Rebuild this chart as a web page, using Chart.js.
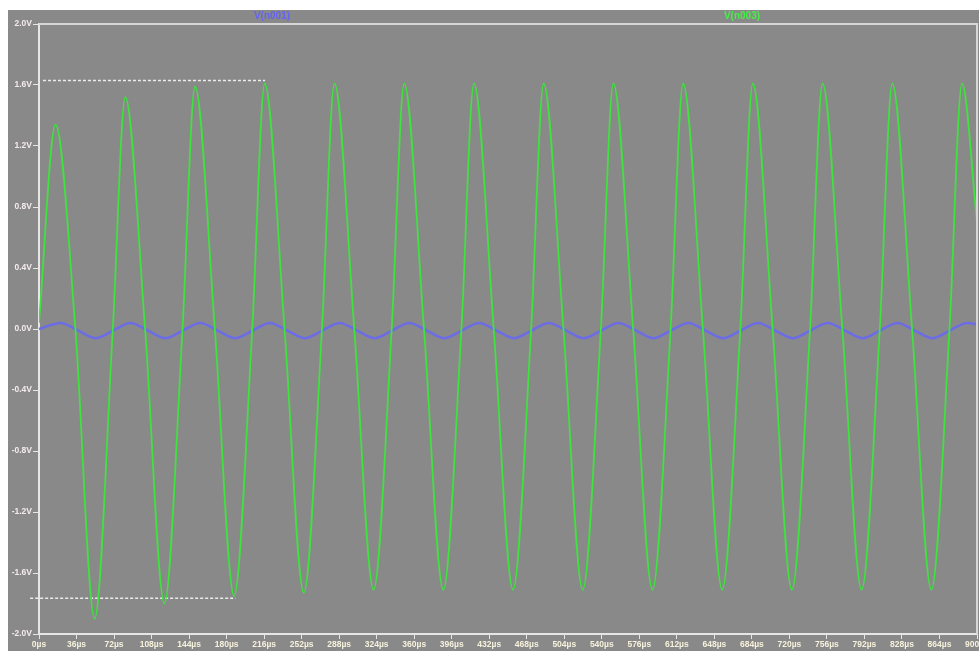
<!DOCTYPE html>
<html>
<head>
<meta charset="utf-8">
<script src="https://cdn.jsdelivr.net/npm/chart.js@4/dist/chart.umd.min.js"></script>
<style>
    body { margin: 0; background: #fff; }
    canvas { display: block; }
</style>
</head>
<body>
<canvas id="scope" width="979" height="651"></canvas>
<script>
// time in µs, volts (peaks, zero crossings, troughs)
const greenTime = [0, 15.9, 34.9, 53.4, 70.8, 82.8, 101.8, 120.3, 137.7, 149.7, 168.7, 187.2, 204.6,
    216.6, 235.6, 254.1, 271.5, 283.5, 302.5, 321.0, 338.4, 350.4, 369.4, 387.9, 405.3,
    417.3, 436.3, 454.8, 472.2, 484.2, 503.2, 521.7, 539.1, 551.1, 570.1, 588.6, 606.0,
    618.0, 637.0, 655.5, 672.9, 684.9, 703.9, 722.4, 739.8, 751.8, 770.8, 789.3, 806.7,
    818.7, 837.7, 856.2, 873.6, 885.6, 900];
const greenVolt = [0.04, 1.34, 0, -1.90, 0, 1.52, 0, -1.80, 0, 1.59, 0, -1.75, 0,
    1.61, 0, -1.73, 0, 1.61, 0, -1.71, 0, 1.61, 0, -1.71, 0,
    1.61, 0, -1.71, 0, 1.61, 0, -1.71, 0, 1.61, 0, -1.71, 0,
    1.61, 0, -1.71, 0, 1.61, 0, -1.71, 0, 1.61, 0, -1.71, 0,
    1.61, 0, -1.71, 0, 1.61, 0.70];

const blueTime = [0, 20.9, 37.6, 54.4, 71.1, 87.8, 104.5, 121.3, 138.0, 154.7, 171.4, 188.2, 204.9,
    221.6, 238.3, 255.1, 271.8, 288.5, 305.2, 322.0, 338.7, 355.4, 372.1, 388.9, 405.6,
    422.3, 439.0, 455.8, 472.5, 489.2, 505.9, 522.7, 539.4, 556.1, 572.8, 589.6, 606.3,
    623.0, 639.7, 656.5, 673.2, 689.9, 706.6, 723.4, 740.1, 756.8, 773.5, 790.3, 807.0,
    823.7, 840.4, 857.2, 873.9, 890.6, 900];
const blueVolt = [0, 0.04, -0.01, -0.06, -0.01, 0.04, -0.01, -0.06, -0.01, 0.04, -0.01, -0.06, -0.01,
    0.04, -0.01, -0.06, -0.01, 0.04, -0.01, -0.06, -0.01, 0.04, -0.01, -0.06, -0.01,
    0.04, -0.01, -0.06, -0.01, 0.04, -0.01, -0.06, -0.01, 0.04, -0.01, -0.06, -0.01,
    0.04, -0.01, -0.06, -0.01, 0.04, -0.01, -0.06, -0.01, 0.04, -0.01, -0.06, -0.01,
    0.04, -0.01, -0.06, -0.01, 0.04, 0.03];

// dotted cursor rulers
const topRulerTime = [3.8, 217];
const topRulerVolt = [1.63, 1.63];
const bottomRulerTime = [-8.5, 188.5];
const bottomRulerVolt = [-1.765, -1.765];

const traceNames = ["V(n001)", "V(n003)"];

const toPoints = (xs, ys) => xs.map((x, i) => ({ x: x, y: ys[i] }));

const backdrop = {
    id: "backdrop",
    beforeDraw(chart) {
        const c = chart.ctx;
        c.save();
        c.fillStyle = "#ffffff";
        c.fillRect(0, 0, chart.width, chart.height);
        c.fillStyle = "#898989";
        c.fillRect(8, 10, chart.width - 8, chart.height - 10);
        c.restore();
    },
    afterDraw(chart) {
        const c = chart.ctx;
        const a = chart.chartArea;
        c.save();
        c.strokeStyle = "#d6d6d6";
        c.lineWidth = 2;
        c.beginPath();
        c.moveTo(a.left, a.top);
        c.lineTo(a.right, a.top);
        c.lineTo(a.right, a.bottom);
        c.stroke();
        c.font = "bold 10px 'Liberation Sans'";
        c.textAlign = "center";
        c.textBaseline = "middle";
        c.fillStyle = "#6464f0";
        c.fillText(traceNames[0], 272, 16);
        c.fillStyle = "#44f044";
        c.fillText(traceNames[1], 742, 16);
        c.restore();
    },
};

new Chart(document.getElementById("scope"), {
    type: "line",
    data: {
        datasets: [
            {
                data: toPoints(greenTime, greenVolt),
                borderColor: "#3fe23f",
                borderWidth: 1.8,
                cubicInterpolationMode: "monotone",
            },
            {
                data: toPoints(blueTime, blueVolt),
                borderColor: "#6c6ce6",
                borderWidth: 2.5,
                cubicInterpolationMode: "monotone",
            },
            {
                data: toPoints(topRulerTime, topRulerVolt),
                borderColor: "#ececec",
                borderWidth: 1.5,
                borderDash: [3, 2],
            },
            {
                data: toPoints(bottomRulerTime, bottomRulerVolt),
                borderColor: "#ececec",
                borderWidth: 1.5,
                borderDash: [3, 2],
                clip: false,
            },
        ],
    },
    options: {
        responsive: false,
        animation: false,
        layout: { padding: { left: 8, top: 24, right: 2, bottom: 0 } },
        elements: { point: { radius: 0 } },
        plugins: { legend: { display: false }, tooltip: { enabled: false } },
        scales: {
            x: {
                type: "linear",
                min: 0,
                max: 900,
                border: { color: "#e6e6e6", width: 2 },
                grid: { drawOnChartArea: false, tickLength: 5, color: "#e6e6e6" },
                ticks: {
                    stepSize: 36,
                    maxRotation: 0,
                    autoSkip: false,
                    padding: 1,
                    color: "#f6f2dc",
                    font: { family: "Liberation Sans", size: 8.5, weight: "bold" },
                    callback: (v) => v + "µs",
                },
                afterFit(scale) {
                    scale.height = 17;
                    scale.paddingLeft = 0;
                    scale.paddingRight = 0;
                },
            },
            y: {
                min: -2,
                max: 2,
                border: { color: "#e6e6e6", width: 2 },
                grid: { drawOnChartArea: false, tickLength: 6, color: "#e6e6e6" },
                ticks: {
                    stepSize: 0.4,
                    autoSkip: false,
                    padding: 1,
                    color: "#f3eaee",
                    font: { family: "Liberation Sans", size: 8.5, weight: "bold" },
                    callback: (v) => v.toFixed(1) + "V",
                },
                afterFit(scale) {
                    scale.width = 31;
                    scale.paddingTop = 0;
                    scale.paddingBottom = 0;
                },
            },
        },
    },
    plugins: [backdrop],
});
</script>
</body>
</html>
